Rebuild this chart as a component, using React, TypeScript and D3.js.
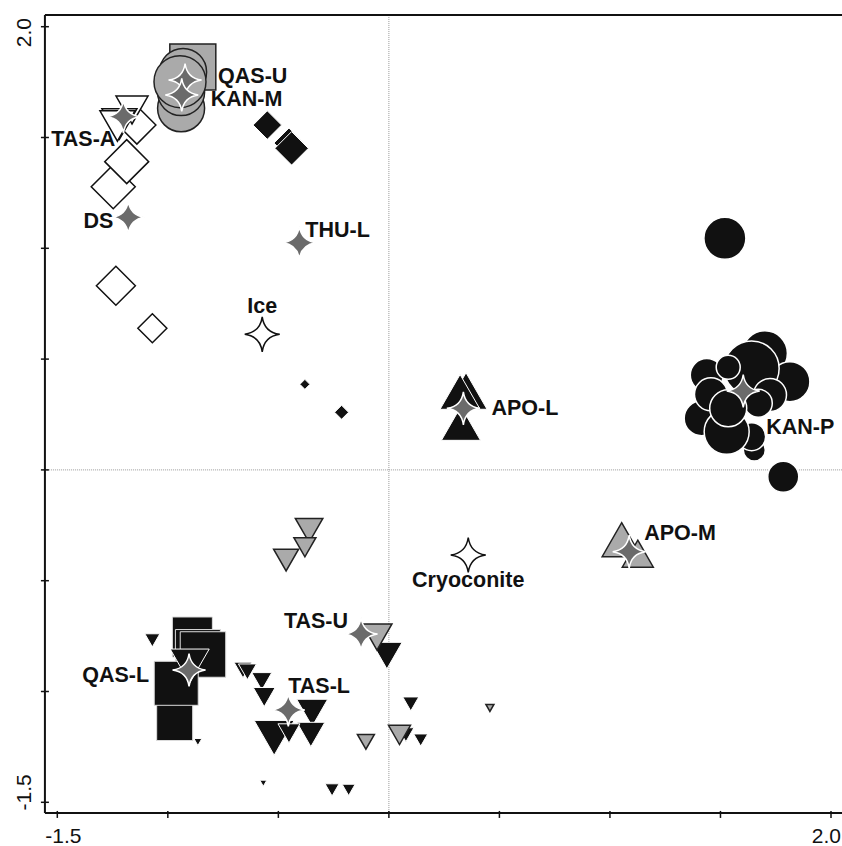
import React from "react";
import * as d3 from "d3";

// ---------- data (x, y, relative abundance weight) ----------
const whiteDiamonds: number[][] = [
  [-1.140, 1.556, 0.76],
  [-1.247, 1.278, 0.88],
  [-1.186, 1.391, 0.88],
  [-1.235, 0.831, 0.78],
  [-1.070, 0.639, 0.58],
];
const tasAWhiteTriangles: number[][] = [
  [-1.162, 1.624, 0.64],
  [-1.219, 1.561, 0.70],
  [-1.228, 1.552, 0.70],
];
const qasUGraySquares: number[][] = [[-0.887, 1.818, 0.92]];
const kanMGrayCircles: number[][] = [
  [-0.931, 1.796, 0.94],
  [-0.940, 1.632, 0.94],
  [-0.940, 1.705, 0.94],
  [-0.945, 1.752, 1.04],
];
const thuBlackDiamonds: number[][] = [
  [-0.550, 1.556, 0.57],
  [-0.452, 1.475, 0.6],
  [-0.440, 1.451, 0.67],
  [-0.380, 0.386, 0.2],
  [-0.214, 0.260, 0.28],
];
const kanPBlackCircles: number[][] = [
  [1.520, 1.045, 0.84],
  [1.784, -0.031, 0.62],
  [1.701, 0.526, 0.9],
  [1.814, 0.398, 0.8],
  [1.641, 0.458, 1.1],
  [1.438, 0.428, 0.66],
  [1.535, 0.463, 0.48],
  [1.724, 0.338, 0.66],
  [1.671, 0.301, 0.56],
  [1.415, 0.233, 0.7],
  [1.457, 0.341, 0.66],
  [1.653, 0.090, 0.44],
  [1.641, 0.150, 0.56],
  [1.528, 0.172, 0.9],
  [1.535, 0.278, 0.74],
];
const apoLBlackTriangles: number[][] = [
  [0.349, 0.356, 0.84],
  [0.322, 0.352, 0.8],
  [0.326, 0.210, 0.78],
];
const apoMGrayTriangles: number[][] = [
  [1.053, -0.315, 0.78],
  [1.126, -0.378, 0.62],
];
const qasLBlackSquares: number[][] = [
  [-0.969, -1.140, 0.72],
  [-0.889, -0.754, 0.8],
  [-0.864, -0.822, 0.9],
  [-0.841, -0.833, 0.91],
  [-0.962, -0.963, 0.88],
];
const blackInvTriangles: number[][] = [
  [-0.009, -0.838, 0.61],
  [0.099, -1.056, 0.32],
  [0.077, -1.195, 0.32],
  [0.144, -1.219, 0.28],
  [-0.257, -1.444, 0.28],
  [-0.182, -1.444, 0.26],
  [-0.901, -0.885, 0.78],
  [-1.070, -0.769, 0.3],
  [-0.864, -1.228, 0.16],
  [-0.568, -1.414, 0.14],
  [-0.660, -0.903, 0.36],
  [-0.640, -0.911, 0.36],
  [-0.575, -0.954, 0.4],
  [-0.564, -1.025, 0.44],
  [-0.347, -1.096, 0.62],
  [-0.353, -1.194, 0.56],
  [-0.519, -1.209, 0.8],
  [-0.452, -1.189, 0.44],
];
const grayInvTriangles: number[][] = [
  [-0.361, -0.273, 0.55],
  [-0.380, -0.349, 0.44],
  [-0.465, -0.407, 0.5],
  [-0.054, -0.754, 0.6],
  [0.457, -1.074, 0.16],
  [0.048, -1.196, 0.44],
  [-0.104, -1.227, 0.34],
];

// centroids: name, x, y
const groupCentroids: [string, number, number][] = [
  ["QAS-U", -0.922, 1.759],
  ["KAN-M", -0.937, 1.692],
  ["TAS-A", -1.201, 1.594],
  ["DS", -1.179, 1.140],
  ["THU-L", -0.405, 1.025],
  ["APO-L", 0.337, 0.278],
  ["KAN-P", 1.603, 0.356],
  ["APO-M", 1.087, -0.369],
  ["TAS-U", -0.126, -0.741],
  ["QAS-L", -0.904, -0.903],
  ["TAS-L", -0.455, -1.083],
];
const referenceCentroids: [string, number, number][] = [
  ["Ice", -0.573, 0.612],
  ["Cryoconite", 0.359, -0.384],
];

const tickValues = [-1.5, -1.0, -0.5, 0.0, 0.5, 1.0, 1.5, 2.0];
const xTickLabels: [number, string][] = [[-1.5, "-1.5"], [2.0, "2.0"]];
const yTickLabels: [number, string][] = [[-1.5, "-1.5"], [2.0, "2.0"]];

// ---------- layout / style ----------
const W = 842;
const H = 846;
const FRAME_X = [-1.556, 2.06];
const FRAME_Y = [-1.548, 2.053];
const BLACK = "#111111";
const GRAY = "#aaaaaa";
const STAR = "#6b6b6b";
const FONT = "'Liberation Sans', Arial, Helvetica, sans-serif";

const labelOffsets: Record<string, [number, number, string]> = {
  "QAS-U": [33, 3, "start"],
  "KAN-M": [29, 11, "start"],
  "TAS-A": [-8, 29, "end"],
  DS: [-15, 11, "end"],
  "THU-L": [6, -6, "start"],
  "APO-L": [28, 7, "start"],
  "KAN-P": [23, 43, "start"],
  "APO-M": [15, -12, "start"],
  "TAS-U": [-13, -6, "end"],
  "QAS-L": [-40, 12, "end"],
  "TAS-L": [0, -17, "start"],
  Ice: [0, -21, "middle"],
  Cryoconite: [0, 32, "middle"],
};

const x = d3.scaleLinear().domain([-1.5, 2.0]).range([57.3, 831]);
const y = d3.scaleLinear().domain([-1.5, 2.0]).range([802.3, 26.7]);
const size = d3.scaleLinear().domain([0, 1]).range([0, 50]);

function diamondPath(w: number) {
  const h = w / 2;
  return `M0,${-h}L${h},0L0,${h}L${-h},0Z`;
}
function squarePath(w: number) {
  const h = w / 2;
  return `M${-h},${-h}H${h}V${h}H${-h}Z`;
}
function triUpPath(w: number) {
  const h = 0.87 * w;
  return `M0,${-h / 2}L${w / 2},${h / 2}L${-w / 2},${h / 2}Z`;
}
function triDownPath(w: number) {
  const h = 0.87 * w;
  return `M${-w / 2},${-h / 2}L${w / 2},${-h / 2}L0,${h / 2}Z`;
}
function starPath(R: number) {
  const k = 0.12 * R;
  return `M0,${-R}Q${k},${-k} ${R},0Q${k},${k} 0,${R}Q${-k},${k} ${-R},0Q${-k},${-k} 0,${-R}Z`;
}

type Shape = "diamond" | "square" | "circle" | "up" | "down";

function Marks({
  data,
  shape,
  fill,
  stroke,
  sw,
}: {
  data: number[][];
  shape: Shape;
  fill: string;
  stroke: string;
  sw: number;
}) {
  return (
    <g>
      {data.map((d, i) => {
        const cx = x(d[0]);
        const cy = y(d[1]);
        const w = size(d[2]);
        if (shape === "circle")
          return <circle key={i} cx={cx} cy={cy} r={w / 2} fill={fill} stroke={stroke} strokeWidth={sw} />;
        const p =
          shape === "diamond"
            ? diamondPath(w)
            : shape === "square"
            ? squarePath(w)
            : shape === "up"
            ? triUpPath(w)
            : triDownPath(w);
        return (
          <path
            key={i}
            d={p}
            transform={`translate(${cx},${cy})`}
            fill={fill}
            stroke={stroke}
            strokeWidth={sw}
            strokeLinejoin="miter"
          />
        );
      })}
    </g>
  );
}

export default function App() {
  const left = x(FRAME_X[0]);
  const right = x(FRAME_X[1]);
  const top = y(FRAME_Y[1]);
  const bottom = y(FRAME_Y[0]);
  return (
    <svg
      width={W}
      height={H}
      viewBox={`0 0 ${W} ${H}`}
      style={{ position: "absolute", left: 0, top: 0, background: "#fff" }}
    >
      <rect x={0} y={0} width={W} height={H} fill="#fff" />
      {/* zero reference lines */}
      <line x1={x(0)} x2={x(0)} y1={top} y2={bottom} stroke="#999" strokeWidth={1} strokeDasharray="1,1" />
      <line x1={left} x2={right} y1={y(0)} y2={y(0)} stroke="#999" strokeWidth={1} strokeDasharray="1,1" />

      <Marks data={whiteDiamonds} shape="diamond" fill="#fff" stroke={BLACK} sw={1.5} />
      <Marks data={tasAWhiteTriangles} shape="down" fill="#fff" stroke={BLACK} sw={1.5} />
      <Marks data={qasUGraySquares} shape="square" fill={GRAY} stroke="#222" sw={1.5} />
      <Marks data={kanMGrayCircles} shape="circle" fill={GRAY} stroke="#222" sw={1.5} />
      <Marks data={thuBlackDiamonds} shape="diamond" fill={BLACK} stroke="#fff" sw={1} />
      <Marks data={kanPBlackCircles} shape="circle" fill={BLACK} stroke="#fff" sw={1.5} />
      <Marks data={apoLBlackTriangles} shape="up" fill={BLACK} stroke="#fff" sw={1} />
      <Marks data={apoMGrayTriangles} shape="up" fill={GRAY} stroke="#222" sw={1.5} />
      <Marks data={qasLBlackSquares} shape="square" fill={BLACK} stroke="#ddd" sw={1} />
      <Marks data={blackInvTriangles} shape="down" fill={BLACK} stroke="#fff" sw={1} />
      <Marks data={grayInvTriangles} shape="down" fill={GRAY} stroke="#222" sw={1.5} />

      {groupCentroids.map(([n, cx, cy]) => (
        <path
          key={n}
          d={starPath(16.5)}
          transform={`translate(${x(cx)},${y(cy)})`}
          fill={STAR}
          stroke="#fff"
          strokeWidth={1.5}
        />
      ))}
      {referenceCentroids.map(([n, cx, cy]) => (
        <path
          key={n}
          d={starPath(17.5)}
          transform={`translate(${x(cx)},${y(cy)})`}
          fill="#fff"
          stroke={BLACK}
          strokeWidth={1.5}
        />
      ))}

      {[...groupCentroids, ...referenceCentroids].map(([n, cx, cy]) => {
        const [dx, dy, anchor] = labelOffsets[n];
        return (
          <text
            key={"l" + n}
            x={x(cx) + dx}
            y={y(cy) + dy}
            textAnchor={anchor as any}
            fontFamily={FONT}
            fontWeight="bold"
            fontSize={21.5}
            fill={BLACK}
          >
            {n}
          </text>
        );
      })}

      {/* frame and axes */}
      <line x1={left} x2={right} y1={top} y2={top} stroke={BLACK} strokeWidth={2} />
      <line x1={left} x2={left} y1={top} y2={bottom} stroke={BLACK} strokeWidth={2} />
      <line x1={left} x2={right} y1={bottom} y2={bottom} stroke={BLACK} strokeWidth={2} />
      {tickValues.map((t) => (
        <line key={"xt" + t} x1={x(t)} x2={x(t)} y1={bottom - 2} y2={bottom + 5} stroke={BLACK} strokeWidth={1.5} />
      ))}
      {tickValues.map((t) => (
        <line key={"yt" + t} x1={left - 4} x2={left + 4} y1={y(t)} y2={y(t)} stroke={BLACK} strokeWidth={1.5} />
      ))}
      {xTickLabels.map(([t, s]) => (
        <text
          key={"xl" + t}
          x={t < 0 ? x(t) + 6 : 841}
          y={843}
          textAnchor={t < 0 ? "middle" : "end"}
          fontFamily={FONT}
          fontSize={21}
          fill={BLACK}
        >
          {s}
        </text>
      ))}
      {yTickLabels.map(([t, s]) => (
        <text
          key={"yl" + t}
          transform={`translate(31,${y(t) + (t < 0 ? -10 : 6)}) rotate(-90)`}
          textAnchor="middle"
          fontFamily={FONT}
          fontSize={21}
          fill={BLACK}
        >
          {s}
        </text>
      ))}
    </svg>
  );
}
